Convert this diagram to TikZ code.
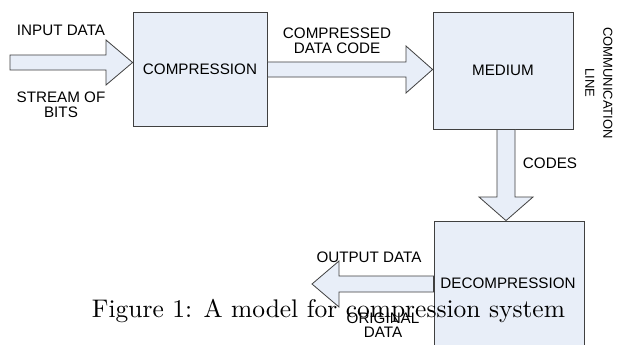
\documentclass[tikz,border=0pt]{standalone}
\usepackage{fontspec}
\setmainfont{Liberation Sans}
\newfontfamily\capfont{Latin Modern Roman}
\definecolor{boxfill}{HTML}{E8EEF8}
\definecolor{edge}{HTML}{404040}
\begin{document}
\begin{tikzpicture}[x=1pt,y=-1pt,
  blk/.style={draw=edge,fill=boxfill,line width=0.8pt,inner sep=0pt},
  barrow/.style={draw=edge,fill=boxfill,line width=0.8pt,line join=miter},
  lbl/.style={font=\fontsize{15.2}{14.5}\selectfont,align=center,inner sep=0pt,text=black}]
\useasboundingbox (0,0) rectangle (618,345);
\clip (0,0) rectangle (618,345);
\fill[white] (0,0) rectangle (618,345);
% boxes
\node[blk,minimum width=134pt,minimum height=114pt] (comp) at (200,69) {};
\node[blk,minimum width=140pt,minimum height=117pt] (med) at (503,70.5) {};
\node[blk,minimum width=150pt,minimum height=140pt] (dec) at (509,291) {};
% arrow anchor coordinates
\coordinate (inStart) at (10,62.5);
% input arrow
\draw[barrow] (inStart |- 0,55) -- (106,55) -- (106,40) -- (comp.west |- 0,62.5) -- (106,85) -- (106,70) -- (inStart |- 0,70) -- cycle;
% compressed data arrow
\draw[barrow] (comp.east |- 0,62) -- (406,62) -- (406,46) -- (med.west |- 0,69.5) -- (406,93) -- (406,77) -- (comp.east |- 0,77) -- cycle;
% codes arrow
\draw[barrow] (497,0 |- med.south) -- (497,197) -- (479,197) -- (506,0 |- dec.north) -- (533,197) -- (515,197) -- (515,0 |- med.south) -- cycle;
% output arrow
\draw[barrow] (dec.west |- 0,276) -- (339,276) -- (339,261) -- (312,284) -- (339,307) -- (339,292) -- (dec.west |- 0,292) -- cycle;
% labels
\node[lbl] (tin) at (61,30) {INPUT DATA};
\node[lbl] (tstream) at (61,105) {STREAM OF\\BITS};
\node[lbl] (tcomp) at (comp.center) {COMPRESSION};
\node[lbl] (tcd) at (337,41) {COMPRESSED\\DATA CODE};
\node[lbl] (tmed) at (med.center) {MEDIUM};
\node[lbl,font=\fontsize{13}{18}\selectfont,rotate=-90] (tcl) at (599,83) {COMMUNICATION\\LINE};
\node[lbl] (tcodes) at (550,163) {CODES};
\node[lbl] (tdec) at (508,283) {DECOMPRESSION};
\node[lbl] (tout) at (369,257) {OUTPUT DATA};
\node[lbl] (torig) at (383,325) {ORIGINAL\\DATA};
% caption
\node[anchor=base,inner sep=0pt] (cap) at (328.5,317) {\resizebox{473pt}{!}{\capfont\fontsize{10}{12}\selectfont Figure 1: A model for compression system}};
\end{tikzpicture}
\end{document}
